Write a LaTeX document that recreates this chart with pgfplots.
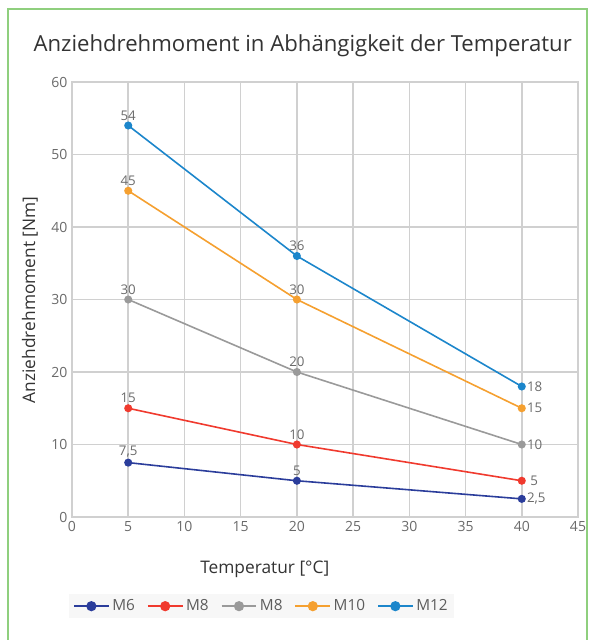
\documentclass[border=0pt]{standalone}
\usepackage{pgfplots}
\pgfplotsset{compat=1.18}
\usepackage{fontspec}
\setmainfont{Open Sans}
\definecolor{frame}{HTML}{8FCF7E}
\definecolor{gridc}{HTML}{D0D0D0}
\definecolor{tickc}{HTML}{6A6A6A}
\definecolor{txt}{HTML}{333333}
\definecolor{cM6}{HTML}{2B3D9B}
\definecolor{cM8}{HTML}{F03A2E}
\definecolor{cM8g}{HTML}{9A9A9A}
\definecolor{cM10}{HTML}{F5A030}
\definecolor{cM12}{HTML}{1C86CB}
\begin{document}
\begin{tikzpicture}
\useasboundingbox (0,0) rectangle (447.75pt,480pt);
\begin{scope}
\clip (0,0) rectangle (447.75pt,480pt);
\draw[frame, line width=1.5pt] (6pt,-5pt) -- (6pt,473.25pt) -- (440pt,473.25pt) -- (440pt,-5pt);
\end{scope}
\node[txt, font=\fontsize{16.6}{19}\selectfont] at (227pt,446pt) {Anziehdrehmoment in Abhängigkeit der Temperatur};
\begin{axis}[
  at={(54pt,92.25pt)}, anchor=south west,
  scale only axis, width=379.5pt, height=326.25pt,
  xmin=0, xmax=45, ymin=0, ymax=60,
  xtick={0,5,...,45}, ytick={0,10,...,60},
  grid=major, major grid style={gridc, line width=1.1pt},
  axis line style={gridc, line width=1.1pt},
  tick style={draw=none},
  ticklabel style={tickc, font=\fontsize{10.5}{12}\selectfont},
  /pgf/number format/assume math mode=true,
  xlabel={Temperatur [°C]},
  xlabel style={at={(axis description cs:0.381,-0.12)}, anchor=center, txt, font=\fontsize{13}{15}\selectfont},
  ylabel={Anziehdrehmoment [Nm]},
  ylabel style={at={(axis description cs:-0.083,0.499)}, anchor=center, rotate=0, txt, font=\fontsize{13}{15}\selectfont},
  legend columns=5,
  legend style={at={(0.375,-0.205)}, anchor=center, draw=none, fill=black!3,
    font=\fontsize{11.5}{13}\selectfont, text=txt!80,
    /tikz/every even column/.append style={column sep=7pt}},
  legend image code/.code={\draw[#1, line width=1.4pt] (0pt,0pt) -- (26pt,0pt); \fill[#1] (13pt,0pt) circle (3.2pt);},
  every axis plot/.append style={line width=1.2pt, mark=*, mark size=2.4pt},
  nodes near coords style={tickc, font=\fontsize{10}{11}\selectfont},
]
\addplot[cM6] coordinates {(5,7.5) (20,5) (40,2.5)};
\addlegendentry{M6}
\addplot[cM8] coordinates {(5,15) (20,10) (40,5)};
\addlegendentry{M8}
\addplot[cM8g] coordinates {(5,30) (20,20) (40,10)};
\addlegendentry{M8}
\addplot[cM10] coordinates {(5,45) (20,30) (40,15)};
\addlegendentry{M10}
\addplot[cM12] coordinates {(5,54) (20,36) (40,18)};
\addlegendentry{M12}
% labels above points at 5 and 20
\addplot[draw=none, mark=none, forget plot, point meta=explicit symbolic, nodes near coords, nodes near coords align={above}]
  coordinates {(5,7.5) [7,5] (20,5) [5] (5,15) [15] (20,10) [10] (5,30) [30] (20,20) [20] (5,45) [45] (20,30) [30] (5,54) [54] (20,36) [36]};
% labels right of points at 40
\addplot[draw=none, mark=none, forget plot, point meta=explicit symbolic, nodes near coords, nodes near coords align={right}]
  coordinates {(40,2.5) [2,5] (40,5) [\ 5] (40,10) [10] (40,15) [15] (40,18) [18]};
\end{axis}
\end{tikzpicture}
\end{document}
